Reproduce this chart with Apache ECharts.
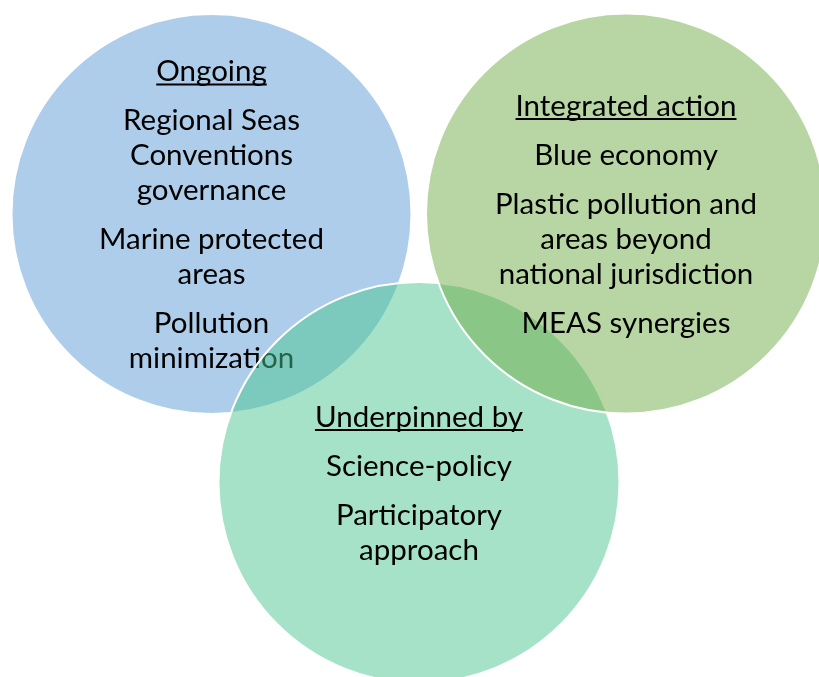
<!DOCTYPE html>
<html><head><meta charset="utf-8">
<script src="https://cdn.jsdelivr.net/npm/echarts@6/dist/echarts.min.js"></script>
<style>html,body{margin:0;padding:0;background:#fff}#c{width:819px;height:677px}</style>
</head><body><div id="c"></div>
<script>
// Sets (circles) of the Venn diagram
const setNames = ['Ongoing', 'Underpinned by', 'Integrated action'];
const centerX = [211.5, 419, 626];
const centerY = [214, 482.5, 213.5];
const radius = [200, 200.5, 200];
const setItems = [
  [['Regional Seas', 'Conventions', 'governance'], ['Marine protected', 'areas'], ['Pollution', 'minimization']],
  [['Science-policy'], ['Participatory', 'approach']],
  [['Blue economy'], ['Plastic pollution and', 'areas beyond', 'national jurisdiction'], ['MEAS synergies']]
];
const fills = ['rgba(91,155,213,0.5)', 'rgba(75,197,145,0.5)', 'rgba(112,173,71,0.5)'];

const FONT_SIZE = 29.5;
const FONT = FONT_SIZE + 'px Lato';
const LINE = 35, PARA = 49;
const mctx = document.createElement('canvas').getContext('2d');
mctx.font = FONT;

const chart = echarts.init(document.getElementById('c'));
chart.setOption({
  animation: false,
  grid: {left: 0, right: 0, top: 0, bottom: 0},
  xAxis: {type: 'value', min: 0, max: 819, show: false},
  yAxis: {type: 'value', min: 0, max: 677, inverse: true, show: false},
  series: [{
    type: 'custom',
    coordinateSystem: 'cartesian2d',
    data: setNames.map((n, i) => [centerX[i], centerY[i], radius[i], i]),
    clip: false,
    renderItem: function (params, api) {
      const i = api.value(3);
      const c = api.coord([api.value(0), api.value(1)]);
      const r = api.size([api.value(2), 0])[0];
      const base = i * 10;
      const children = [{
        type: 'circle',
        shape: {cx: c[0], cy: c[1], r: r},
        style: {fill: fills[i], stroke: '#fff', lineWidth: 2},
        z2: base
      }];
      // vertical layout of text block
      const offs = [{t: setNames[i], y: 0, title: true}];
      let y = 0;
      setItems[i].forEach((para) => {
        para.forEach((ln, k) => {
          y += (k === 0 ? PARA : LINE);
          offs.push({t: ln, y: y});
        });
      });
      const shift = y / 2;
      offs.forEach((o) => {
        const ty = c[1] + o.y - shift;
        children.push({
          type: 'text',
          style: {text: o.t, x: c[0], y: ty + 1, font: FONT, fill: '#000', align: 'center', verticalAlign: 'middle'},
          z2: base + 1
        });
        if (o.title) {
          const w = mctx.measureText(o.t).width;
          children.push({
            type: 'line',
            shape: {x1: c[0] - w / 2, y1: ty + 14, x2: c[0] + w / 2, y2: ty + 14},
            style: {stroke: '#000', lineWidth: 1.8},
            z2: base + 1
          });
        }
      });
      return {type: 'group', children: children};
    }
  }]
});
</script></body></html>
